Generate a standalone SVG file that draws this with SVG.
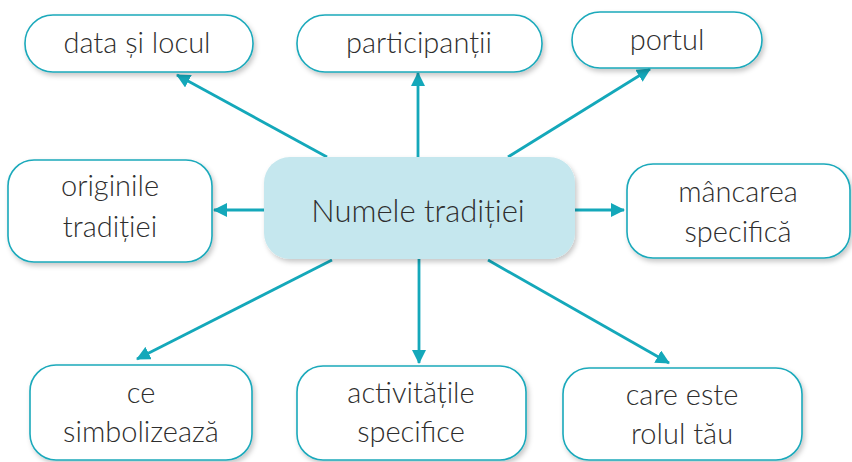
<svg xmlns="http://www.w3.org/2000/svg" width="852" height="462" viewBox="0 0 852 462">
<defs>
<filter id="sh" x="-10%" y="-20%" width="120%" height="150%">
<feDropShadow dx="2" dy="3" stdDeviation="2.5" flood-color="#000" flood-opacity="0.22"/>
</filter>
<marker id="ah" viewBox="0 0 14 14" refX="13" refY="7" markerWidth="14" markerHeight="14" markerUnits="userSpaceOnUse" orient="auto">
<path d="M0,0 L14,7 L0,14 Z" fill="#14a8ba"/>
</marker>
<style>
.box{fill:#fff;stroke:#1aa9bb;stroke-width:1.6;filter:url(#sh)}
.main{fill:#c5e7ee;stroke:none;filter:url(#sh)}
.t{font-family:Lato,"Open Sans","Liberation Sans",sans-serif;font-weight:300;font-size:29px;fill:#2e2e2e;text-anchor:middle}
.c{stroke:#14a8ba;stroke-width:2.8;fill:none;marker-end:url(#ah)}
</style>
</defs>
<g id="connectors">
<line class="c" x1="327" y1="157" x2="177" y2="75"/>
<line class="c" x1="418" y1="157" x2="418" y2="73"/>
<line class="c" x1="508" y1="157" x2="650" y2="69"/>
<line class="c" x1="264" y1="210" x2="214" y2="210"/>
<line class="c" x1="575" y1="210" x2="624" y2="210"/>
<line class="c" x1="332" y1="260" x2="137" y2="359"/>
<line class="c" x1="419" y1="259" x2="419" y2="363"/>
<line class="c" x1="488" y1="260" x2="669" y2="363"/>
</g>
<g id="center">
<rect class="main" x="264" y="157" width="311" height="102" rx="26"/>
<text class="t" x="418" y="222" style="font-size:31px">Numele tradiției</text>
</g>
<g id="data">
<rect class="box" x="25" y="15" width="228" height="57" rx="28"/>
<text class="t" x="137" y="53">data și locul</text>
</g>
<g id="participantii">
<rect class="box" x="297" y="15" width="245" height="57" rx="28"/>
<text class="t" x="419" y="53">participanții</text>
</g>
<g id="portul">
<rect class="box" x="572" y="12" width="190" height="56" rx="28"/>
<text class="t" x="667" y="50">portul</text>
</g>
<g id="originile">
<rect class="box" x="8" y="160" width="204" height="102" rx="26"/>
<text class="t" x="110" y="196">originile</text>
<text class="t" x="110" y="237">tradiției</text>
</g>
<g id="mancarea">
<rect class="box" x="627" y="164" width="223" height="94" rx="26"/>
<text class="t" x="738" y="202">mâncarea</text>
<text class="t" x="738" y="242">specifică</text>
</g>
<g id="simbolizeaza">
<rect class="box" x="30" y="365" width="222" height="95" rx="26"/>
<text class="t" x="141" y="403">ce</text>
<text class="t" x="141" y="442">simbolizează</text>
</g>
<g id="activitatile">
<rect class="box" x="297" y="366" width="229" height="94" rx="26"/>
<text class="t" x="411" y="403">activitățile</text>
<text class="t" x="411" y="442">specifice</text>
</g>
<g id="rolul">
<rect class="box" x="563" y="368" width="239" height="92" rx="26"/>
<text class="t" x="682" y="405">care este</text>
<text class="t" x="682" y="444">rolul tău</text>
</g>
</svg>
